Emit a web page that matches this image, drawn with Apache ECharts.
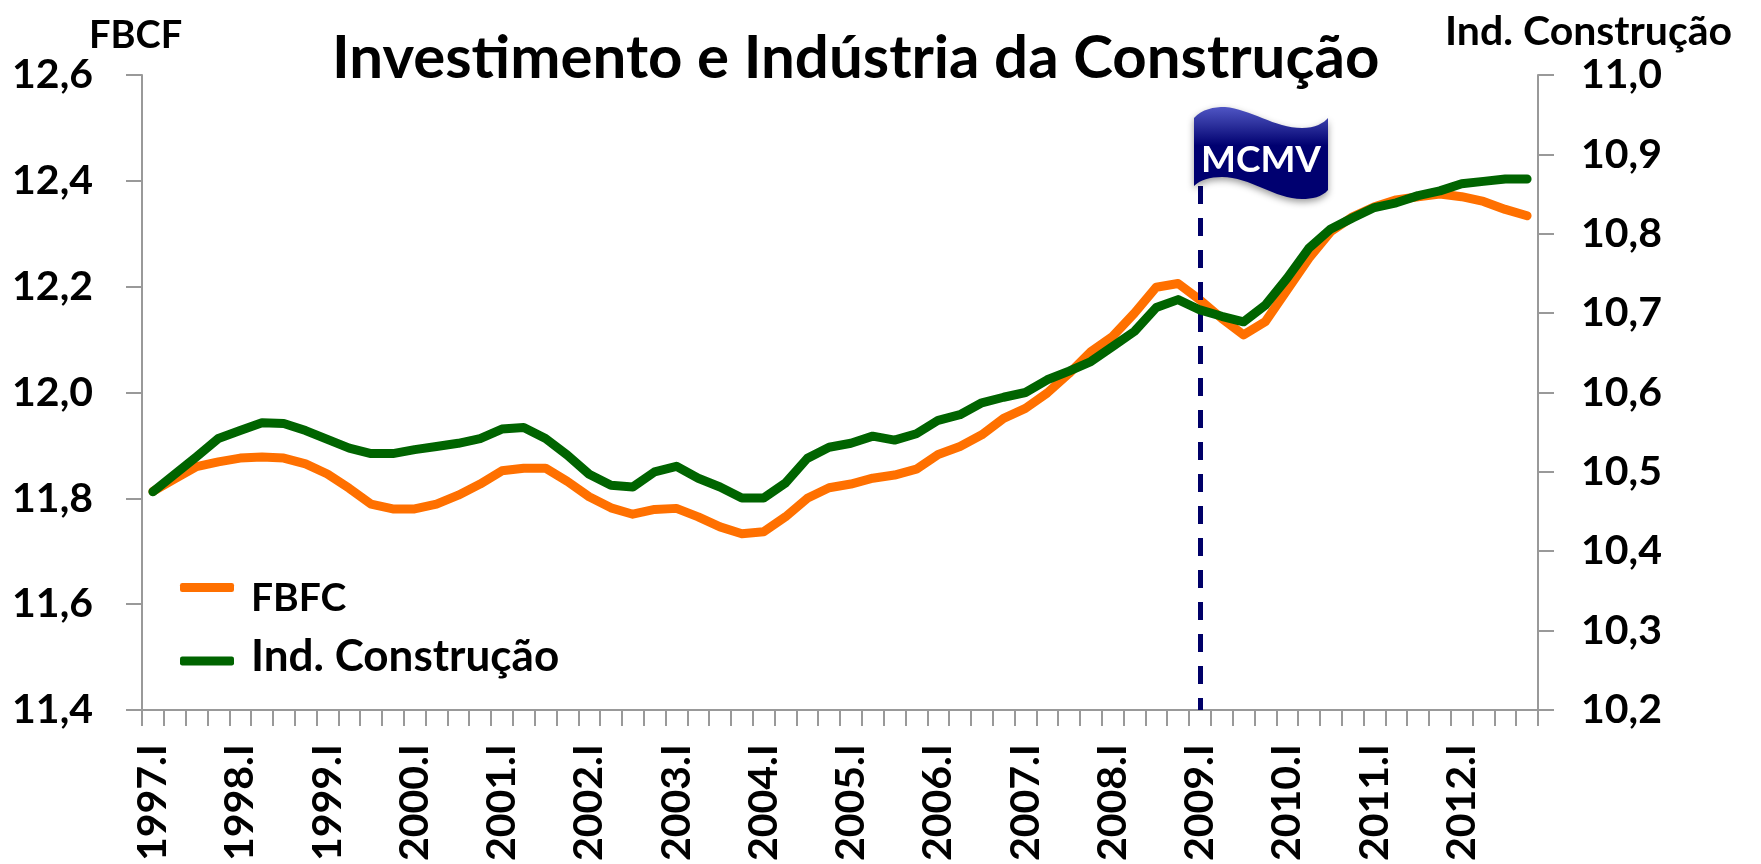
<!DOCTYPE html>
<html><head><meta charset="utf-8">
<style>html,body{margin:0;padding:0;background:#fff}#c{width:1761px;height:864px}</style>
<script src="https://cdn.jsdelivr.net/npm/echarts@6/dist/echarts.min.js"></script>
</head><body><div id="c"></div>
<script>
const years = [1997,1998,1999,2000,2001,2002,2003,2004,2005,2006,2007,2008,2009,2010,2011,2012];
const quarters = ['I','II','III','IV'];
const categories = years.flatMap(y => quarters.map(q => y + '.' + q));
const fbcf = [11.813,11.837,11.860,11.869,11.876,11.878,11.876,11.865,11.846,11.819,11.789,11.780,11.780,11.789,11.806,11.827,
11.852,11.857,11.857,11.832,11.803,11.782,11.770,11.779,11.781,11.765,11.746,11.733,11.737,11.765,11.800,11.820,
11.827,11.838,11.844,11.855,11.883,11.898,11.920,11.951,11.970,11.999,12.036,12.077,12.106,12.150,12.199,12.206,
12.175,12.140,12.109,12.134,12.194,12.254,12.304,12.332,12.351,12.364,12.370,12.375,12.370,12.361,12.346,12.334];
const construcao = [10.475,10.497,10.519,10.542,10.552,10.562,10.561,10.552,10.541,10.530,10.523,10.523,10.528,10.532,10.536,10.542,
10.554,10.556,10.542,10.521,10.497,10.483,10.481,10.500,10.507,10.492,10.481,10.467,10.467,10.486,10.517,10.531,
10.536,10.545,10.540,10.548,10.565,10.572,10.587,10.594,10.600,10.616,10.627,10.639,10.658,10.677,10.707,10.717,
10.704,10.696,10.689,10.710,10.744,10.782,10.806,10.820,10.833,10.839,10.848,10.854,10.863,10.866,10.869,10.869];
const markerCategory = '2009.I', markerTop = 12.39, markerBottom = 11.4;
const FONT = 'Lato', ORANGE = '#FF7000', GREEN = '#006400', NAVY = '#000068', AXIS = '#999999';
const comma = v => v.toFixed(1).replace('.', ',');
const axisLine = {show:true, lineStyle:{color:AXIS, width:2}};
const axisTick = {show:true, length:16, lineStyle:{color:AXIS, width:2}};
const legendBase = {orient:'horizontal', icon:'roundRect', itemWidth:54, itemHeight:9, selectedMode:false,
  textStyle:{fontFamily:FONT, fontWeight:'bold', fontSize:39, color:'#000'}};
echarts.graphic.registerShape('flagShape', echarts.graphic.extendPath(
  'M1194,118 C1202,109 1214,107 1225,107 C1250,109 1275,128 1302,128 C1315,128 1324,123 1328,118 L1328,190 C1322,197 1312,199 1302,199 C1275,199 1250,177 1222,177 C1210,177 1200,180 1194,186 Z', {}));
const chart = echarts.init(document.getElementById('c'), null, {renderer:'canvas'});
chart.setOption({
  animation:false, backgroundColor:'#fff',
  title:[
    {text:'Investimento e Indústria da Construção', left:327, top:24, textStyle:{fontFamily:FONT, fontWeight:'bold', fontSize:60, color:'#000'}},
    {text:'FBCF', left:84, top:12, textStyle:{fontFamily:FONT, fontWeight:'bold', fontSize:38, color:'#000'}},
    {text:'Ind. Construção', left:1440, top:6, textStyle:{fontFamily:FONT, fontWeight:'bold', fontSize:41, color:'#000'}}
  ],
  legend:[
    Object.assign({}, legendBase, {data:['FBFC'], left:175, top:574, formatter:'{t|{name}}',
      textStyle:Object.assign({}, legendBase.textStyle, {padding:[0,0,0,12], rich:{t:{fontFamily:FONT, fontWeight:'bold', fontSize:39, color:'#000', padding:[22,0,0,0]}}})}),
    Object.assign({}, legendBase, {data:['Ind. Construção'], left:175, top:630, formatter:'{t|{name}}',
      textStyle:Object.assign({}, legendBase.textStyle, {padding:[0,0,0,12], rich:{t:{fontFamily:FONT, fontWeight:'bold', fontSize:44, color:'#000', padding:[0,0,8,0]}}})})
  ],
  grid:{left:142, right:223, top:75, bottom:154, containLabel:false},
  xAxis:{type:'category', data:categories, boundaryGap:true, axisLine,
    axisTick:Object.assign({interval:0, alignWithLabel:false}, axisTick),
    axisLabel:{interval:3, rotate:90, margin:34, fontFamily:FONT, fontWeight:'bold', fontSize:41, color:'#000', hideOverlap:false},
    splitLine:{show:false}},
  yAxis:[
    {type:'value', min:11.4, max:12.6, interval:0.2, position:'left', axisLine, axisTick, splitLine:{show:false},
      axisLabel:{margin:49, formatter:comma, fontFamily:FONT, fontWeight:'bold', fontSize:41, color:'#000'}},
    {type:'value', min:10.2, max:11.0, interval:0.1, position:'right', axisLine, axisTick, splitLine:{show:false},
      axisLabel:{margin:43, formatter:comma, fontFamily:FONT, fontWeight:'bold', fontSize:41, color:'#000'}}
  ],
  series:[
    {name:'FBFC', type:'line', yAxisIndex:0, data:fbcf, showSymbol:false, symbol:'none', z:2,
      lineStyle:{color:ORANGE, width:9, cap:'round', join:'round'}, itemStyle:{color:ORANGE},
      markLine:{silent:true, symbol:'none', z:3, label:{show:false},
        lineStyle:{color:NAVY, width:5, type:[18,14]},
        data:[[{coord:[markerCategory, markerTop]},{coord:[markerCategory, markerBottom]}]]}},
    {name:'Ind. Construção', type:'line', yAxisIndex:1, data:construcao, showSymbol:false, symbol:'none', z:4,
      lineStyle:{color:GREEN, width:9, cap:'round', join:'round'}, itemStyle:{color:GREEN}}
  ],
  graphic:[
    {type:'flagShape', z:10,
      style:{fill:new echarts.graphic.LinearGradient(0,0,0,1,[{offset:0,color:'#4f55c4'},{offset:0.18,color:'#2f339f'},{offset:0.42,color:'#000070'},{offset:1,color:'#000070'}]),
        shadowBlur:7, shadowColor:'rgba(0,0,0,0.4)', shadowOffsetY:3}},
    {type:'text', z:11, x:1261, y:160, style:{text:'MCMV', fill:'#fff', align:'center', verticalAlign:'middle',
      font:'bold 37px '+FONT}}
  ]
});
</script></body></html>
